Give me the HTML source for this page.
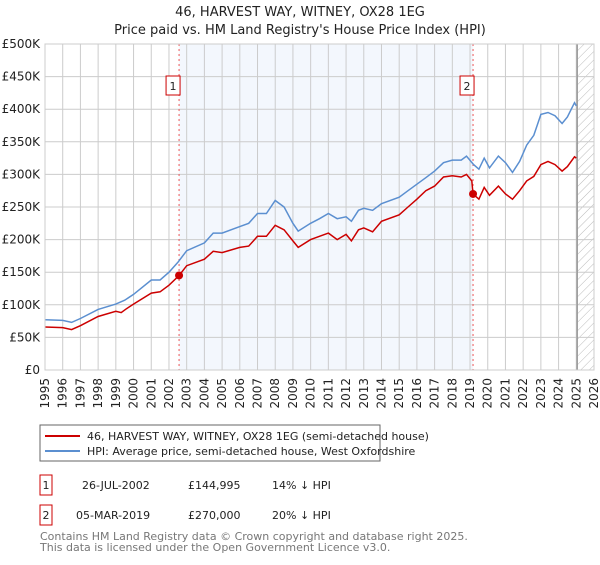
<!DOCTYPE html>
<html><head><meta charset="utf-8"><style>
body{margin:0;background:#fff;font-family:"Liberation Sans","DejaVu Sans",sans-serif;}
svg text{font-family:"DejaVu Sans","Liberation Sans",sans-serif;}
</style></head><body>
<svg id="c" width="600" height="560" xmlns="http://www.w3.org/2000/svg">
<defs><pattern id="hatch" width="6" height="6" patternUnits="userSpaceOnUse" patternTransform="rotate(45)"><line x1="0" y1="0" x2="0" y2="6" stroke="#bbb" stroke-width="1"/></pattern></defs>
<text x="300" y="16" text-anchor="middle" font-size="13" fill="#222">46, HARVEST WAY, WITNEY, OX28 1EG</text>
<text x="300" y="34" text-anchor="middle" font-size="13" fill="#222">Price paid vs. HM Land Registry's House Price Index (HPI)</text>
<g id="plot"></g>
<rect x="40" y="425" width="340" height="36" fill="#fff" stroke="#666"/>
<line x1="45" y1="436" x2="80" y2="436" stroke="#cc0000" stroke-width="2"/>
<text x="87" y="440" font-size="11" fill="#222">46, HARVEST WAY, WITNEY, OX28 1EG (semi-detached house)</text>
<line x1="45" y1="451" x2="80" y2="451" stroke="#5b8fd0" stroke-width="2"/>
<text x="87" y="455" font-size="11" fill="#222">HPI: Average price, semi-detached house, West Oxfordshire</text>
<rect x="40" y="475" width="12" height="20" fill="#fff" stroke="#cc0000"/>
<text x="46" y="489" text-anchor="middle" font-size="11" fill="#222">1</text>
<text x="82" y="489" font-size="11" fill="#222">26-JUL-2002</text>
<text x="188" y="489" font-size="11" fill="#222">£144,995</text>
<text x="272" y="489" font-size="11" fill="#222">14% ↓ HPI</text>
<rect x="40" y="505" width="12" height="20" fill="#fff" stroke="#cc0000"/>
<text x="46" y="519" text-anchor="middle" font-size="11" fill="#222">2</text>
<text x="76" y="519" font-size="11" fill="#222">05-MAR-2019</text>
<text x="188" y="519" font-size="11" fill="#222">£270,000</text>
<text x="272" y="519" font-size="11" fill="#222">20% ↓ HPI</text>
<text x="40" y="540" font-size="11" fill="#777">Contains HM Land Registry data © Crown copyright and database right 2025.</text>
<text x="40" y="551" font-size="11" fill="#777">This data is licensed under the Open Government Licence v3.0.</text>
</svg>
<script>
const hpiX=[1995,1996,1996.5,1997,1998,1999,1999.5,2000,2001,2001.5,2002,2002.5,2003,2004,2004.5,2005,2006,2006.5,2007,2007.5,2008,2008.5,2009,2009.3,2010,2010.5,2011,2011.5,2012,2012.3,2012.7,2013,2013.5,2014,2015,2015.5,2016,2016.5,2017,2017.5,2018,2018.5,2018.8,2019.2,2019.5,2019.8,2020.1,2020.6,2021,2021.4,2021.8,2022.2,2022.6,2023,2023.4,2023.8,2024.2,2024.5,2024.9,2025];
const hpiY=[77,76,73,79,93,101,107,116,138,138,150,165,183,195,210,210,220,225,240,240,260,250,225,213,225,232,240,232,235,228,245,248,245,255,265,275,285,295,305,318,322,322,328,315,308,325,310,328,318,303,320,345,360,392,395,390,378,388,410,405];
const propX=[1995,1996,1996.5,1997,1998,1999,1999.3,1999.6,2000,2001,2001.5,2002,2002.57,2003,2004,2004.5,2005,2006,2006.5,2007,2007.5,2008,2008.5,2009,2009.3,2010,2011,2011.5,2012,2012.3,2012.7,2013,2013.5,2014,2015,2015.5,2016,2016.5,2017,2017.5,2018,2018.5,2018.8,2019.1,2019.17,2019.5,2019.8,2020.1,2020.6,2021,2021.4,2021.8,2022.2,2022.6,2023,2023.4,2023.8,2024.2,2024.5,2024.9,2025];
const propY=[66,65,62,68,82,90,88,94,101,118,120,130,145,160,170,182,180,188,190,205,205,222,215,198,188,200,210,200,208,198,215,218,212,228,238,250,262,275,282,296,298,296,300,290,270,262,280,268,282,270,262,275,290,297,315,320,315,305,312,327,325];
const saleX=[2002.57,2019.17];
const saleY=[144.995,270];
const saleLabels=["1","2"];
const yTicks=[0,50,100,150,200,250,300,350,400,450,500];
const yTickLabels=["£0","£50K","£100K","£150K","£200K","£250K","£300K","£350K","£400K","£450K","£500K"];
const years=[1995,1996,1997,1998,1999,2000,2001,2002,2003,2004,2005,2006,2007,2008,2009,2010,2011,2012,2013,2014,2015,2016,2017,2018,2019,2020,2021,2022,2023,2024,2025,2026];
const L=45,R=594,T=44,B=370;
const sx=v=>L+(v-1995)/31*(R-L);
const sy=v=>B-v/500*(B-T);
const NS="http://www.w3.org/2000/svg";
const g=document.getElementById('plot');
function mk(t,a){const e=document.createElementNS(NS,t);for(const k in a)e.setAttribute(k,a[k]);g.appendChild(e);return e;}
let e;
e=mk('rect',{x:sx(saleX[0]),y:T,width:sx(saleX[1])-sx(saleX[0]),height:B-T,fill:'#eef3fc',opacity:0.7});


e=mk('rect',{x:sx(2025),y:T,width:R-sx(2025),height:B-T,fill:'url(#hatch)'});


yTicks.forEach((v,i)=>{
 e=mk('line',{x1:L,x2:R,y1:sy(v),y2:sy(v),stroke:'#ccc','stroke-width':1});
 
 
 e=mk('text',{x:L-5,y:sy(v)+4,'text-anchor':'end','font-size':12,fill:'#222'});e.textContent=yTickLabels[i];
 
 
});
years.forEach(y=>{
 e=mk('line',{x1:sx(y),x2:sx(y),y1:T,y2:B,stroke:'#ccc','stroke-width':1});
 
 
 const x=sx(y)+4,yy=378;
 e=mk('text',{x:x,y:yy,'text-anchor':'end','font-size':12,fill:'#222',transform:`rotate(-90 ${x} ${yy})`});e.textContent=y;
 
 
});
e=mk('line',{x1:sx(2025.05),x2:sx(2025.05),y1:T,y2:B,stroke:'#999','stroke-width':1.5});


saleX.forEach((v,i)=>{
 e=mk('line',{x1:sx(v),x2:sx(v),y1:T,y2:B,stroke:'#e55','stroke-width':1,'stroke-dasharray':'2,3'});
 
 
});
const pts=(xs,ys)=>xs.map((x,i)=>sx(x).toFixed(1)+','+sy(ys[i]).toFixed(1)).join(' ');
e=mk('polyline',{points:pts(hpiX,hpiY),fill:'none',stroke:'#5b8fd0','stroke-width':1.5});


e=mk('polyline',{points:pts(propX,propY),fill:'none',stroke:'#cc0000','stroke-width':1.5});


saleX.forEach((v,i)=>{
 e=mk('circle',{cx:sx(v),cy:sy(saleY[i]),r:4,fill:'#cc0000'});
 
 
 e=mk('rect',{x:sx(v)-13,y:76,width:14,height:19,fill:'#fff',stroke:'#cc0000'});
 
 
 e=mk('text',{x:sx(v)-6,y:90,'text-anchor':'middle','font-size':11,fill:'#222'});e.textContent=saleLabels[i];
 
 
});
e=mk('rect',{x:L,y:T,width:R-L,height:B-T,fill:'none',stroke:'#ccc'});


</script>
</body></html>
